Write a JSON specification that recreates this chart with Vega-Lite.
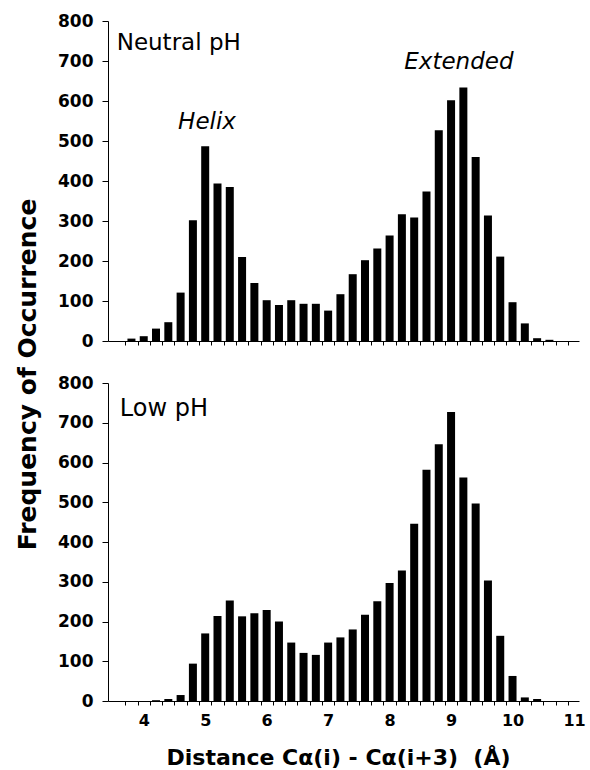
{
  "$schema": "https://vega.github.io/schema/vega-lite/v6.json",
  "padding": {"left": 15, "top": 12, "right": 5, "bottom": 5},
  "background": "white",
  "config": {
    "view": {"stroke": null},
    "font": "DejaVu Sans",
    "axis": {"grid": false, "domainColor": "black", "tickColor": "black", "labelColor": "black", "titleColor": "black", "domainWidth": 1}
  },
  "datasets": {
    "neutral": [
      {"distance": 3.8, "count": 6}, {"distance": 4.0, "count": 12}, {"distance": 4.2, "count": 31}, {"distance": 4.4, "count": 47},
      {"distance": 4.6, "count": 121}, {"distance": 4.8, "count": 302}, {"distance": 5.0, "count": 487}, {"distance": 5.2, "count": 394},
      {"distance": 5.4, "count": 385}, {"distance": 5.6, "count": 210}, {"distance": 5.8, "count": 145}, {"distance": 6.0, "count": 102},
      {"distance": 6.2, "count": 90}, {"distance": 6.4, "count": 102}, {"distance": 6.6, "count": 93}, {"distance": 6.8, "count": 93},
      {"distance": 7.0, "count": 76}, {"distance": 7.2, "count": 117}, {"distance": 7.4, "count": 167}, {"distance": 7.6, "count": 202},
      {"distance": 7.8, "count": 231}, {"distance": 8.0, "count": 264}, {"distance": 8.2, "count": 317}, {"distance": 8.4, "count": 309},
      {"distance": 8.6, "count": 374}, {"distance": 8.8, "count": 527}, {"distance": 9.0, "count": 602}, {"distance": 9.2, "count": 634},
      {"distance": 9.4, "count": 460}, {"distance": 9.6, "count": 314}, {"distance": 9.8, "count": 211}, {"distance": 10.0, "count": 97},
      {"distance": 10.2, "count": 44}, {"distance": 10.4, "count": 7}, {"distance": 10.6, "count": 3}
    ],
    "low": [
      {"distance": 4.2, "count": 2}, {"distance": 4.4, "count": 5}, {"distance": 4.6, "count": 15}, {"distance": 4.8, "count": 94},
      {"distance": 5.0, "count": 170}, {"distance": 5.2, "count": 214}, {"distance": 5.4, "count": 253}, {"distance": 5.6, "count": 213},
      {"distance": 5.8, "count": 221}, {"distance": 6.0, "count": 229}, {"distance": 6.2, "count": 200}, {"distance": 6.4, "count": 147},
      {"distance": 6.6, "count": 121}, {"distance": 6.8, "count": 116}, {"distance": 7.0, "count": 147}, {"distance": 7.2, "count": 160},
      {"distance": 7.4, "count": 180}, {"distance": 7.6, "count": 217}, {"distance": 7.8, "count": 251}, {"distance": 8.0, "count": 297},
      {"distance": 8.2, "count": 328}, {"distance": 8.4, "count": 446}, {"distance": 8.6, "count": 582}, {"distance": 8.8, "count": 646},
      {"distance": 9.0, "count": 727}, {"distance": 9.2, "count": 562}, {"distance": 9.4, "count": 497}, {"distance": 9.6, "count": 303},
      {"distance": 9.8, "count": 164}, {"distance": 10.0, "count": 63}, {"distance": 10.2, "count": 9}, {"distance": 10.4, "count": 5}
    ]
  },
  "spacing": 42,
  "bounds": "flush",
  "vconcat": [
    {
      "width": 471,
      "height": 320,
      "layer": [
        {
          "data": {"name": "neutral"},
          "mark": {"type": "bar", "width": 8, "color": "black"},
          "encoding": {
            "x": {
              "field": "distance", "type": "quantitative",
              "scale": {"domain": [3.5, 11], "nice": false, "zero": false},
              "axis": {
                "values": [3.7, 3.9, 4.1, 4.3, 4.5, 4.7, 4.9, 5.1, 5.3, 5.5, 5.7, 5.9, 6.1, 6.3, 6.5, 6.7, 6.9, 7.1, 7.3, 7.5, 7.7, 7.9, 8.1, 8.3, 8.5, 8.7, 8.9, 9.1, 9.3, 9.5, 9.7, 9.9, 10.1, 10.3, 10.5, 10.7, 10.9],
                "tickCount": 200,
                "labels": false, "title": null, "tickSize": 4
              }
            },
            "y": {
              "field": "count", "type": "quantitative",
              "scale": {"domain": [0, 800], "nice": false},
              "axis": {
                "values": [0, 100, 200, 300, 400, 500, 600, 700, 800],
                "tickCount": 50,
                "labelOverlap": false,
                "tickSize": 6, "labelPadding": 9, "labelFontSize": 17, "labelFontWeight": "bold",
                "title": "Frequency of Occurrence", "titleFontSize": 25, "titleFontWeight": "bold",
                "titleAngle": 270, "titleX": -72.6, "titleY": 353, "titleBaseline": "alphabetic", "titleAlign": "center"
              }
            }
          }
        },
        {
          "data": {"values": [{}]},
          "mark": {"type": "text", "align": "left", "baseline": "alphabetic", "fontSize": 23, "color": "black"},
          "encoding": {"x": {"datum": 3.56, "type": "quantitative"}, "y": {"datum": 727, "type": "quantitative"}, "text": {"value": "Neutral pH"}}
        },
        {
          "data": {"values": [{}]},
          "mark": {"type": "text", "align": "center", "baseline": "alphabetic", "fontSize": 23, "fontStyle": "italic", "color": "black"},
          "encoding": {"x": {"datum": 5.03, "type": "quantitative"}, "y": {"datum": 529, "type": "quantitative"}, "text": {"value": "Helix"}}
        },
        {
          "data": {"values": [{}]},
          "mark": {"type": "text", "align": "center", "baseline": "alphabetic", "fontSize": 23, "fontStyle": "italic", "color": "black"},
          "encoding": {"x": {"datum": 9.127, "type": "quantitative"}, "y": {"datum": 679, "type": "quantitative"}, "text": {"value": "Extended"}}
        }
      ]
    },
    {
      "width": 471,
      "height": 318,
      "resolve": {"axis": {"x": "independent"}},
      "layer": [
        {
          "data": {"name": "low"},
          "mark": {"type": "bar", "width": 8, "color": "black"},
          "encoding": {
            "x": {
              "field": "distance", "type": "quantitative",
              "scale": {"domain": [3.5, 11], "nice": false, "zero": false},
              "axis": {
                "orient": "bottom",
                "values": [4, 5, 6, 7, 8, 9, 10, 11],
                "tickCount": 50,
                "format": "d",
                "labelOverlap": false, "labelFlush": false, "labelBound": false,
                "tickColor": "transparent",
                "tickSize": 4, "labelPadding": 7, "labelFontSize": 16, "labelFontWeight": "bold",
                "title": "Distance Cα(i) - Cα(i+3) \u00a0(Å)", "titleFontSize": 22, "titleFontWeight": "bold",
                "titleX": 230, "titleY": 63, "titleBaseline": "alphabetic", "titleAlign": "center"
              }
            },
            "y": {
              "field": "count", "type": "quantitative",
              "scale": {"domain": [0, 800], "nice": false},
              "axis": {
                "values": [0, 100, 200, 300, 400, 500, 600, 700, 800],
                "tickCount": 50,
                "labelOverlap": false,
                "tickSize": 6, "labelPadding": 9, "labelFontSize": 17, "labelFontWeight": "bold",
                "title": null
              }
            }
          }
        },
        {
          "data": {"values": [{}]},
          "mark": {"type": "text", "align": "left", "baseline": "alphabetic", "fontSize": 24, "color": "black"},
          "encoding": {
            "x": {
              "datum": 3.61, "type": "quantitative",
              "axis": {
                "orient": "bottom",
                "values": [3.7, 3.9, 4.1, 4.3, 4.5, 4.7, 4.9, 5.1, 5.3, 5.5, 5.7, 5.9, 6.1, 6.3, 6.5, 6.7, 6.9, 7.1, 7.3, 7.5, 7.7, 7.9, 8.1, 8.3, 8.5, 8.7, 8.9, 9.1, 9.3, 9.5, 9.7, 9.9, 10.1, 10.3, 10.5, 10.7, 10.9],
                "tickCount": 200,
                "labels": false, "domain": false, "title": null, "tickSize": 4
              }
            },
            "y": {"datum": 718, "type": "quantitative"},
            "text": {"value": "Low pH"}
          }
        }
      ]
    }
  ]
}
